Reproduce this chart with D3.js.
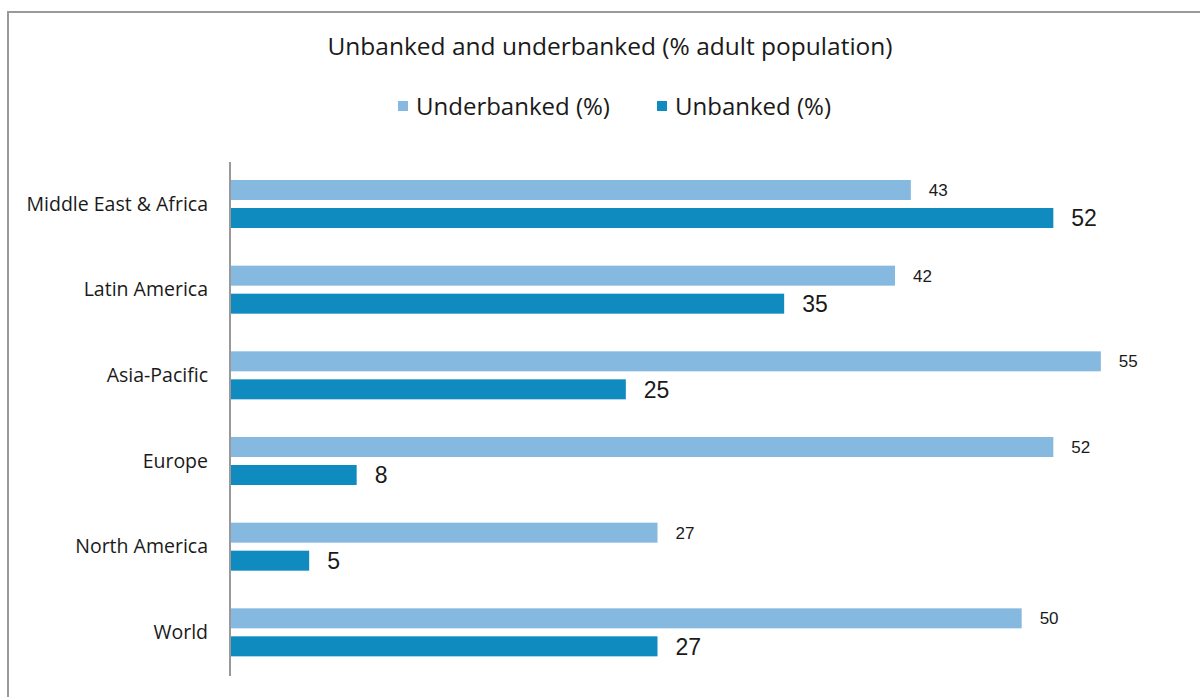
<!DOCTYPE html>
<html>
<head>
<meta charset="utf-8">
<script src="https://cdn.jsdelivr.net/npm/d3@7"></script>
<style>
  body { margin: 0; background: #fff; }
  text { font-family: "Open Sans", "Liberation Sans", sans-serif; fill: #1a1a1a; }
</style>
</head>
<body>
<div id="chart"></div>
<script>
'use strict'

// data
const regions = ["Middle East & Africa", "Latin America", "Asia-Pacific", "Europe", "North America", "World"]
const seriesNames = ["Underbanked (%)", "Unbanked (%)"]
const underbanked = [43, 42, 55, 52, 27, 50]
const unbanked = [52, 35, 25, 8, 5, 27]
const seriesColors = ["#86B9E0", "#0F8BBF"]

const svgWidth = 1200, svgHeight = 697

const svg = d3.select('#chart')
    .append('svg')
    .attr('width', svgWidth)
    .attr('height', svgHeight)

// frame (runs off right and bottom like the screenshot)
svg.append('rect')
    .attr('x', 8).attr('y', 12)
    .attr('width', 1300).attr('height', 800)
    .attr('fill', 'none')
    .attr('stroke', '#9a9a9a')
    .attr('stroke-width', 2)

////////////////////////////////////
//////////// Scales ////////////////
////////////////////////////////////

const x = d3.scaleLinear()
    .domain([0, 60])
    .range([230, 1180])

const y = d3.scaleBand()
    .domain(regions)
    .range([162, 676])

const ySub = d3.scaleBand()
    .domain(seriesNames)
    .range([18, 66])
    .paddingInner(0.2857)

const color = d3.scaleOrdinal()
    .domain(seriesNames)
    .range(seriesColors)

const rows = regions.map((r, i) => ({
    region: r,
    values: [
        { key: seriesNames[0], value: underbanked[i] },
        { key: seriesNames[1], value: unbanked[i] }
    ]
}))

////////////////////////////////////
//////////// title + legend ////////
////////////////////////////////////

svg.append('text')
    .attr('x', 610).attr('y', 55)
    .attr('text-anchor', 'middle')
    .style('font-size', '24.5px')
    .text('Unbanked and underbanked (% adult population)')

const legendX = [398, 657]
seriesNames.forEach((s, i) => {
    svg.append('rect')
        .attr('x', legendX[i]).attr('y', 101)
        .attr('width', 10).attr('height', 10)
        .attr('fill', color(s))
    svg.append('text')
        .attr('x', legendX[i] + 18).attr('y', 115)
        .style('font-size', '24px')
        .text(s)
})

////////////////////////////////////
//////////// bars //////////////////
////////////////////////////////////

const groups = svg.selectAll('.region')
    .data(rows)
    .join('g')
    .attr('class', 'region')
    .attr('transform', d => `translate(0,${y(d.region)})`)

groups.selectAll('rect')
    .data(d => d.values)
    .join('rect')
    .attr('x', x(0))
    .attr('y', d => ySub(d.key))
    .attr('width', d => x(d.value) - x(0))
    .attr('height', ySub.bandwidth())
    .attr('fill', d => color(d.key))

groups.selectAll('.val')
    .data(d => d.values)
    .join('text')
    .attr('class', 'val')
    .attr('x', d => x(d.value) + 18)
    .attr('y', d => ySub(d.key) + ySub.bandwidth() / 2)
    .attr('dy', '0.36em')
    .style('font-family', '"Liberation Sans", Arial, sans-serif')
    .style('font-size', (d, i) => i === 0 ? '17px' : '23px')
    .text(d => d.value)

// category labels
svg.selectAll('.cat')
    .data(regions)
    .join('text')
    .attr('class', 'cat')
    .attr('x', 208)
    .attr('y', d => y(d) + 42)
    .attr('dy', '0.35em')
    .attr('text-anchor', 'end')
    .style('font-size', '19.5px')
    .text(d => d)

// axis line
svg.append('line')
    .attr('x1', x(0)).attr('x2', x(0))
    .attr('y1', 162).attr('y2', 676)
    .attr('stroke', '#999')
    .attr('stroke-width', 2)
</script>
</body>
</html>
